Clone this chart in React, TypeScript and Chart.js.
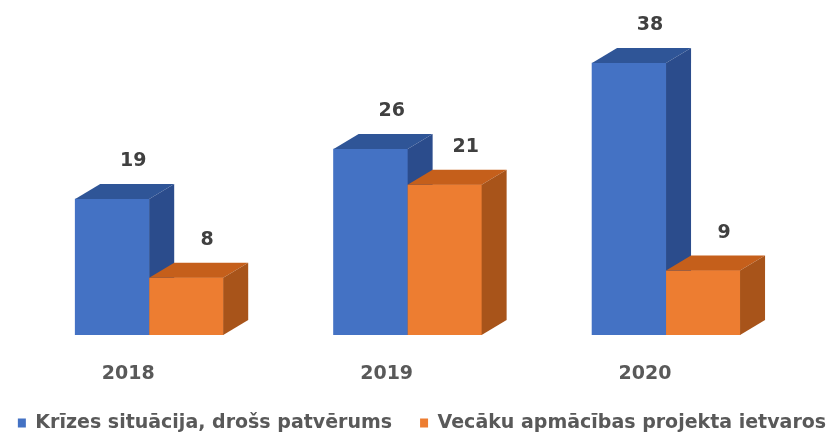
import React, { useEffect, useRef } from "react";
import { Chart, registerables } from "chart.js";

Chart.register(...registerables);

// ---- data ----
const years = ["2018", "2019", "2020"];
const crisisShelter = [19, 26, 38];
const parentTraining = [8, 21, 9];
const seriesNames = [
  "Krīzes situācija, drošs patvērums",
  "Vecāku apmācības projekta ietvaros",
];

// ---- styles ----
const FONT = "'DejaVu Sans', sans-serif";
const DEPTH_X = 25;
const DEPTH_Y = 15;
const faces = [
  { front: "#4472C4", top: "#2F5597", side: "#2B4C8C" },
  { front: "#ED7D31", top: "#C55F1B", side: "#A8541A" },
];

const bar3d = {
  id: "bar3d",
  afterDatasetsDraw(chart: any) {
    const ctx = chart.ctx;
    const metas = chart.data.datasets.map((_: any, i: number) => chart.getDatasetMeta(i));
    const n = chart.data.labels.length;
    ctx.save();
    for (let j = 0; j < n; j++) {
      metas.forEach((meta: any, di: number) => {
        const el = meta.data[j];
        if (!el) return;
        const { x, y, base, width } = el.getProps(["x", "y", "base", "width"], true);
        const l = x - width / 2;
        const r = x + width / 2;
        const c = faces[di];
        ctx.fillStyle = c.front;
        ctx.fillRect(l, y, width, base - y);
        ctx.fillStyle = c.top;
        ctx.beginPath();
        ctx.moveTo(l, y);
        ctx.lineTo(l + DEPTH_X, y - DEPTH_Y);
        ctx.lineTo(r + DEPTH_X, y - DEPTH_Y);
        ctx.lineTo(r, y);
        ctx.closePath();
        ctx.fill();
        ctx.fillStyle = c.side;
        ctx.beginPath();
        ctx.moveTo(r, y);
        ctx.lineTo(r + DEPTH_X, y - DEPTH_Y);
        ctx.lineTo(r + DEPTH_X, base - DEPTH_Y);
        ctx.lineTo(r, base);
        ctx.closePath();
        ctx.fill();
      });
    }
    ctx.font = `bold 19px ${FONT}`;
    ctx.fillStyle = "#404040";
    ctx.textAlign = "center";
    ctx.textBaseline = "middle";
    metas.forEach((meta: any, di: number) => {
      meta.data.forEach((el: any, j: number) => {
        const v = chart.data.datasets[di].data[j];
        ctx.fillText(String(v), el.x + 21, el.y - 38);
      });
    });
    ctx.restore();
  },
};

export default function App() {
  const ref = useRef<HTMLCanvasElement>(null);
  useEffect(() => {
    const chart = new Chart(ref.current as HTMLCanvasElement, {
      type: "bar",
      data: {
        labels: years,
        datasets: [
          { label: seriesNames[0], data: crisisShelter, backgroundColor: faces[0].front, barThickness: 74 },
          { label: seriesNames[1], data: parentTraining, backgroundColor: faces[1].front, barThickness: 74 },
        ],
      },
      options: {
        animation: false,
        responsive: true,
        maintainAspectRatio: false,
        layout: { padding: { top: 13, left: -14, right: -20, bottom: 0 } },
        plugins: {
          legend: {
            position: "bottom",
            maxHeight: 47.5,
            labels: {
              boxWidth: 8,
              boxHeight: 9,
              padding: 28,
              color: "#595959",
              font: { family: FONT, size: 19, weight: "bold" },
            },
          },
          tooltip: { enabled: false },
        },
        scales: {
          x: {
            grid: { display: false, drawTicks: true, tickLength: 27.7 },
            border: { display: false },
            ticks: {
              padding: 0,
              labelOffset: -21,
              color: "#595959",
              font: { family: FONT, size: 19, weight: "bold" },
            },
          },
          y: {
            min: 0,
            max: 45,
            grid: { display: false, drawTicks: false },
            border: { display: false },
            ticks: { display: false },
            afterFit: (s: any) => {
              s.width = 34;
            },
          },
          yR: {
            position: "right",
            grid: { display: false, drawTicks: false },
            border: { display: false },
            ticks: { display: false },
            afterFit: (s: any) => {
              s.width = 62.75;
            },
          },
        },
      },
      plugins: [bar3d],
    } as any);
    return () => chart.destroy();
  }, []);
  return (
    <div style={{ position: "absolute", left: 0, top: 0, width: 838, height: 433 }}>
      <canvas ref={ref} />
    </div>
  );
}
